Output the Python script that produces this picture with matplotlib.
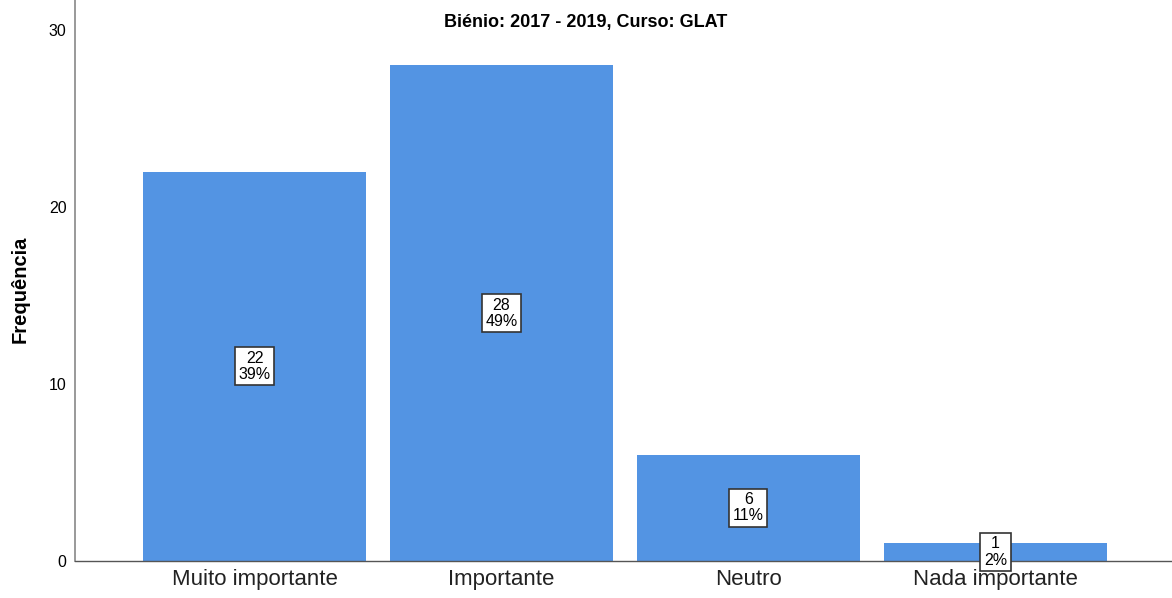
import matplotlib
matplotlib.use("Agg")
import matplotlib.pyplot as plt

plt.rcParams['font.family'] = ['Liberation Sans', 'DejaVu Sans']

# dados
categorias = ["Muito importante", "Importante", "Neutro", "Nada importante"]
frequencias = [22, 28, 6, 1]
percentagens = ["39%", "49%", "11%", "2%"]
titulo = "Biénio: 2017 - 2019, Curso: GLAT"

fig = plt.figure(figsize=(11.72, 5.98), dpi=100)
ax = fig.add_axes([0.064, 0.062, 0.936, 0.938])

x = range(len(categorias))
ax.bar(x, frequencias, width=0.9, color="#5394e3", zorder=2)

# etiquetas com contagem e percentagem a meia altura
for i, (f, p) in enumerate(zip(frequencias, percentagens)):
    ax.text(i, f / 2, f"{f}\n{p}", ha="center", va="center", fontsize=11.5,
            linespacing=1.1, zorder=3,
            bbox=dict(boxstyle="square,pad=0.22", fc="white", ec="#333333", lw=1.2))

ax.set_xlim(-0.727, 3.715)
ax.set_ylim(0, 31.7)
ax.set_yticks([0, 10, 20, 30])
ax.set_xticks(list(x))
ax.set_xticklabels(categorias, fontsize=16, color="#222222")
ax.tick_params(axis="y", length=0, labelsize=11.5, pad=6)
ax.tick_params(axis="x", length=0, pad=6)

for s in ["top", "right"]:
    ax.spines[s].set_visible(False)
ax.spines["left"].set_color("#888888")
ax.spines["bottom"].set_color("#555555")
ax.spines["left"].set_linewidth(1.2)
ax.spines["bottom"].set_linewidth(1.0)

ax.set_ylabel("Frequência", fontsize=14.5, fontweight="bold")
ax.yaxis.set_label_coords(-0.041, 0.484)
fig.text(0.5, 0.962, titulo, ha="center", va="center", fontsize=13, fontweight="bold")

fig.savefig("out.png", dpi=100)
